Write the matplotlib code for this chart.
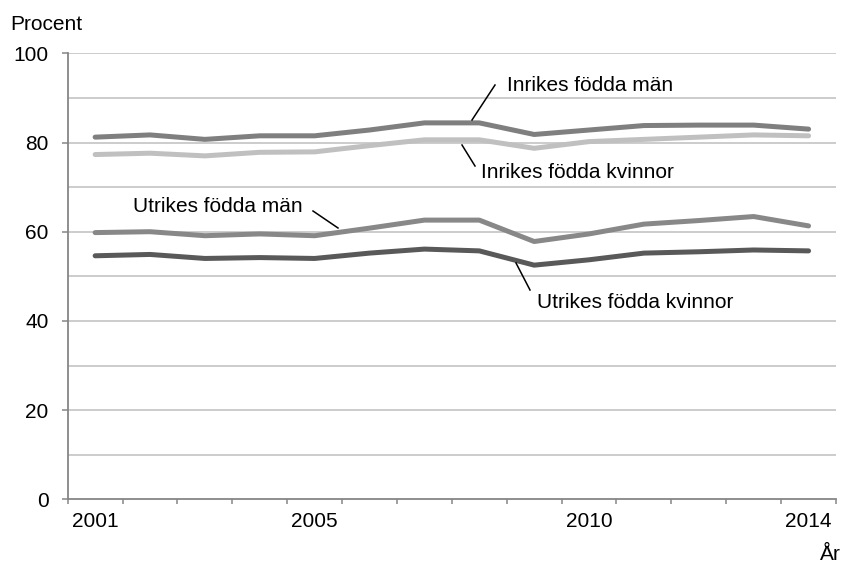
import matplotlib
matplotlib.use("Agg")
import matplotlib.pyplot as plt
from matplotlib.ticker import FixedLocator, NullFormatter

plt.rcParams['font.family'] = ['Liberation Sans', 'DejaVu Sans']

years = list(range(2001, 2015))
year_labels = ["2001", "2005", "2010", "2014"]

inrikes_man = [81.2, 81.7, 80.7, 81.5, 81.5, 82.8, 84.4, 84.4, 81.8, 82.8, 83.8, 83.9, 83.9, 83.0]
inrikes_kvinnor = [77.3, 77.6, 77.0, 77.8, 77.9, 79.3, 80.6, 80.6, 78.7, 80.2, 80.7, 81.2, 81.7, 81.5]
utrikes_man = [59.8, 60.0, 59.1, 59.5, 59.1, 60.8, 62.6, 62.6, 57.8, 59.5, 61.7, 62.5, 63.4, 61.3]
utrikes_kvinnor = [54.6, 54.9, 54.0, 54.2, 54.0, 55.2, 56.1, 55.7, 52.5, 53.7, 55.2, 55.5, 55.9, 55.7]

FS = 15
W, H = 842, 563

fig = plt.figure(figsize=(W / 100, H / 100), dpi=100)
ax = fig.add_axes([67.7 / W, 1 - 499.3 / H, (836 - 67.7) / W, (499.3 - 53.3) / H])

x = list(range(len(years)))
lw = 3.6
ax.plot(x, inrikes_kvinnor, color="#c0c0c0", lw=lw, solid_capstyle="round", zorder=3)
ax.plot(x, inrikes_man, color="#7f7f7f", lw=lw, solid_capstyle="round", zorder=4)
ax.plot(x, utrikes_man, color="#888888", lw=lw, solid_capstyle="round", zorder=3)
ax.plot(x, utrikes_kvinnor, color="#595959", lw=lw, solid_capstyle="round", zorder=3)

ax.set_xlim(-0.5, len(years) - 0.5)
ax.set_ylim(0, 100)

# gridlines every 10
for v in range(10, 101, 10):
    ax.axhline(v, color="#bfbfbf", lw=1.1, zorder=1)

ax.yaxis.set_major_locator(FixedLocator([0, 20, 40, 60, 80, 100]))
ax.tick_params(axis="y", direction="out", length=4.3, width=1.1, color="#868686",
               labelsize=FS, pad=9.5)

bounds = [i - 0.5 for i in range(len(years) + 1)]
ax.xaxis.set_major_locator(FixedLocator(bounds))
ax.xaxis.set_major_formatter(NullFormatter())
lab_pos = [years.index(int(s)) for s in year_labels]
ax.xaxis.set_minor_locator(FixedLocator(lab_pos))
ax.set_xticklabels(year_labels, minor=True)
ax.tick_params(axis="x", which="major", direction="out", length=3.6, width=1.1, color="#868686")
ax.tick_params(axis="x", which="minor", length=0, labelsize=FS, pad=9)

for s in ["top", "right"]:
    ax.spines[s].set_visible(False)
for s in ["left", "bottom"]:
    ax.spines[s].set_color("#868686")
    ax.spines[s].set_linewidth(1.3)
    ax.spines[s].set_zorder(5)

fig.text(10 / W, 1 - 29.5 / H, "Procent", fontsize=FS, va="baseline", ha="left")
fig.text(820 / W, 1 - 560 / H, "År", fontsize=FS, va="baseline", ha="left")


def ann(text, tx, ty, l0, l1):
    fig.text(tx / W, 1 - ty / H, text, fontsize=FS, va="baseline", ha="left")
    fig.add_artist(plt.Line2D([l0[0] / W, l1[0] / W], [1 - l0[1] / H, 1 - l1[1] / H],
                              transform=fig.transFigure, color="black", lw=1.1, zorder=6))


ann("Inrikes födda män", 507, 91, (495, 85), (472, 120))
ann("Inrikes födda kvinnor", 481, 178.3, (462, 145), (475, 166))
ann("Utrikes födda män", 133, 212.3, (313, 211), (338, 228))
ann("Utrikes födda kvinnor", 537, 308.3, (516, 263), (530, 290))

fig.savefig("out.png", dpi=100)
